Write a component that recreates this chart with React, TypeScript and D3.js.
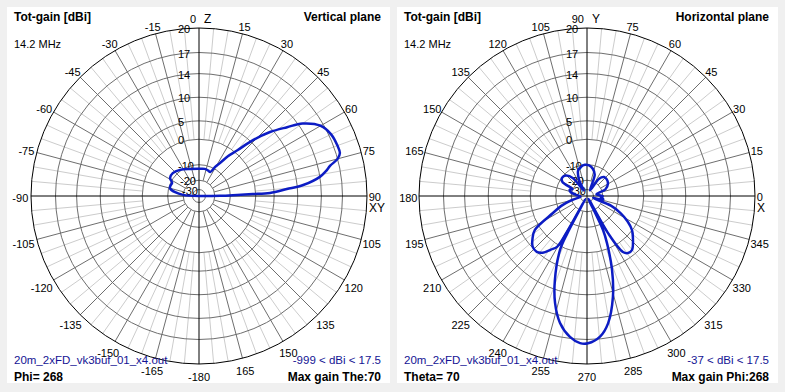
import React from 'react';
import * as d3 from 'd3';

// vertical plane cut: theta from zenith (deg, + = right), total gain dBi
const vertTheta = [-90, -86, -81, -75, -70, -64, -58, -49, -36, -18, 0, 12, 20, 25, 29, 32.5, 36, 40, 44, 48, 52, 55, 60, 65, 70, 73, 75, 77, 79, 81, 84, 85.5, 87.5, 88, 88.5, 89.5, 90, 180];
const vertGain = [-999, -20, -14, -10.6, -10.5, -10.7, -8.6, -8.3, -9.5, -11.5, -12.2, -11.9, -12.3, -12.6, -9, -6.4, -2.5, 0.9, 5.6, 9.4, 12.3, 14.6, 16.6, 17.3, 17.5, 17.5, 17.0, 15.8, 15.0, 14.0, 11.1, 7.9, 4.0, -0.9, -6.8, -16, -999, -999];

// horizontal plane cut at theta 70: azimuth phi (deg), total gain dBi
const horzPhi = [0, 10, 20, 30, 40, 48, 55, 62, 70, 78, 86, 94, 102, 109, 116, 121, 128, 136, 144, 150, 155, 160, 166, 175, 185, 195, 201, 206.6, 213, 218, 223, 228, 232, 236, 239.5, 240.8, 241.5, 242.2, 243.4, 249.1, 253.4, 258, 263.1, 267.3, 270.4, 275.3, 279.4, 284.4, 288.7, 293, 295.2, 297.5, 299.5, 302.7, 305.7, 309.8, 318.3, 322.9, 328, 333, 338, 343, 347, 352, 357];
const horzGain = [-20, -26, -17, -14, -13, -13.2, -16, -30, -15, -11.8, -10.3, -10, -10.8, -12.2, -18, -30, -15, -11, -10.2, -11.5, -20, -18, -19, -25, -30, -20.3, -12, -6.8, 1.6, 3.5, 4.8, 5.0, 4.2, 2.3, 0.7, -5.5, -35, -5.5, 1.0, 8.3, 12.3, 15.1, 16.8, 17.5, 17.5, 16.7, 15.0, 11.0, 5.7, -1.8, -7, -35, -5, 2.8, 3.8, 3.8, 1.4, -0.1, -3, -7, -13, -30, -19.4, -20, -22];

const gainTicks = [20, 17, 14, 10, 5, 0, -10, -20, -30];
// angle labels clockwise from the top, every 15 deg
const vertAngleLabels = ['0', '15', '30', '45', '60', '75', '90', '105', '120', '135', '150', '165', '-180', '-165', '-150', '-135', '-120', '-105', '-90', '-75', '-60', '-45', '-30', '-15'];
const horzAngleLabels = ['90', '75', '60', '45', '30', '15', '0', '345', '330', '315', '300', '285', '270', '255', '240', '225', '210', '195', '180', '165', '150', '135', '120', '105'];

const FONT = '"Liberation Sans", Arial, sans-serif';
const BLUE_TXT = '#141494';

type PanelProps = {
  x: number;
  w: number;
  cx: number;
  cy: number;
  R: number;
  angles: number[];
  gains: number[];
  toScreen: (a: number) => number;
  angleLabels: string[];
  topName: string;
  sideName: string;
  plane: string;
  rangeText: string;
  cutText: string;
  maxText: string;
};

const Panel = (p: PanelProps) => {
  const { cx, cy, R } = p;
  // log-ish gain scale: r + B grows exponentially with dB
  const K = 0.05;
  const B = R * (8 / 168);
  const expo = d3.scaleLinear().domain([-40, 20]).range([-40 * K, 20 * K]);
  const c = (R + B) / Math.exp(expo(20));
  const rScale = (g: number) => Math.max(0, c * Math.exp(expo(g)) - B);
  const rad = (deg: number) => (deg * Math.PI) / 180;

  const pts = p.angles.map((a, i) => [a, p.gains[i]] as [number, number]);
  const path = d3
    .lineRadial<[number, number]>()
    .angle((d) => rad(p.toScreen(d[0])))
    .radius((d) => rScale(d[1]))
    .curve(d3.curveCatmullRomClosed.alpha(0.5))(pts);

  const spokes = d3.range(0, 360, 5);
  const r0 = rScale(0);
  const rMaj = rScale(-20);

  return (
    <g>
      <rect x={p.x} y={7} width={p.w} height={376} fill="#fff" />
      <g transform={`translate(${cx},${cy})`}>
        {spokes.map((a) => {
          if (a % 90 === 0) return null;
          const major = a % 15 === 0;
          const r1 = major ? rMaj : r0;
          const s = Math.sin(rad(a));
          const co = -Math.cos(rad(a));
          return (
            <line
              key={a}
              x1={r1 * s}
              y1={r1 * co}
              x2={R * s}
              y2={R * co}
              stroke={major ? '#6e6e6e' : '#cccccc'}
              strokeWidth={1}
            />
          );
        })}
        {gainTicks.map((g) => (
          <circle key={g} r={rScale(g)} fill="none" stroke={g === 20 ? '#000' : '#6e6e6e'} strokeWidth={1} />
        ))}
        <line x1={-R} y1={0} x2={R} y2={0} stroke="#000" />
        <line x1={0} y1={-R} x2={0} y2={R} stroke="#000" />
        {gainTicks.map((g) => (
          <text key={g} x={-21 + (g <= -20 ? (g === -30 ? 4 : 2) : 0)} y={-rScale(g) + 5} fontSize={11} fontFamily={FONT} fill="#000">
            {g}
          </text>
        ))}
        <path d={path || ''} fill="none" stroke="#0c1cc4" strokeWidth={2.5} strokeLinejoin="round" />
        {p.angleLabels.map((lab, i) => {
          const a = rad(i * 15);
          const s = Math.sin(a);
          const co = Math.cos(a);
          const px = R * s;
          const py = -R * co;
          if (i === 0) {
            return (
              <g key={lab}>
                <text x={-3} y={py - 5} textAnchor="end" fontSize={11} fontFamily={FONT}>{lab}</text>
                <text x={5} y={py - 5} fontSize={12} fontFamily={FONT}>{p.topName}</text>
              </g>
            );
          }
          const w = lab.length * 5.8;
          const x = px + s * (w / 2 + 2);
          const y = co >= 0 ? py + 4.5 - 8 * co : py + 6 + 11 * Math.abs(co);
          return (
            <g key={lab}>
              <text x={x} y={y} textAnchor="middle" fontSize={11} fontFamily={FONT}>{lab}</text>
              {i === 6 && (
                <text x={px + 2} y={py + 16} fontSize={12} fontFamily={FONT}>{p.sideName}</text>
              )}
            </g>
          );
        })}
      </g>
      <text x={p.x + 7} y={21} fontSize={12} fontWeight="bold" fontFamily={FONT}>Tot-gain [dBi]</text>
      <text x={p.x + 7} y={48} fontSize={11} fontFamily={FONT}>14.2 MHz</text>
      <text x={p.x + p.w - 9} y={21} fontSize={12} fontWeight="bold" fontFamily={FONT} textAnchor="end">{p.plane}</text>
      <text x={p.x + 7} y={364} fontSize={11.5} fontFamily={FONT} fill={BLUE_TXT}>20m_2xFD_vk3buf_01_x4.out</text>
      <text x={p.x + 7} y={381} fontSize={12} fontWeight="bold" fontFamily={FONT}>{p.cutText}</text>
      <text x={p.x + p.w - 9} y={364} fontSize={11.5} fontFamily={FONT} fill={BLUE_TXT} textAnchor="end">{p.rangeText}</text>
      <text x={p.x + p.w - 9} y={381} fontSize={12} fontWeight="bold" fontFamily={FONT} textAnchor="end">{p.maxText}</text>
    </g>
  );
};

export default function App() {
  return (
    <div style={{ position: 'fixed', left: 0, top: 0 }}>
      <svg width={785} height={392} style={{ display: 'block', background: '#f0f0f0' }}>
        <Panel
          x={7}
          w={383}
          cx={199}
          cy={196}
          R={168}
          angles={vertTheta}
          gains={vertGain}
          toScreen={(t) => t}
          angleLabels={vertAngleLabels}
          topName="Z"
          sideName="XY"
          plane="Vertical plane"
          rangeText="-999 < dBi < 17.5"
          cutText="Phi= 268"
          maxText="Max gain The:70"
        />
        <Panel
          x={397}
          w={381}
          cx={587}
          cy={196}
          R={168}
          angles={horzPhi}
          gains={horzGain}
          toScreen={(ph) => 90 - ph}
          angleLabels={horzAngleLabels}
          topName="Y"
          sideName="X"
          plane="Horizontal plane"
          rangeText="-37 < dBi < 17.5"
          cutText="Theta= 70"
          maxText="Max gain Phi:268"
        />
      </svg>
    </div>
  );
}
